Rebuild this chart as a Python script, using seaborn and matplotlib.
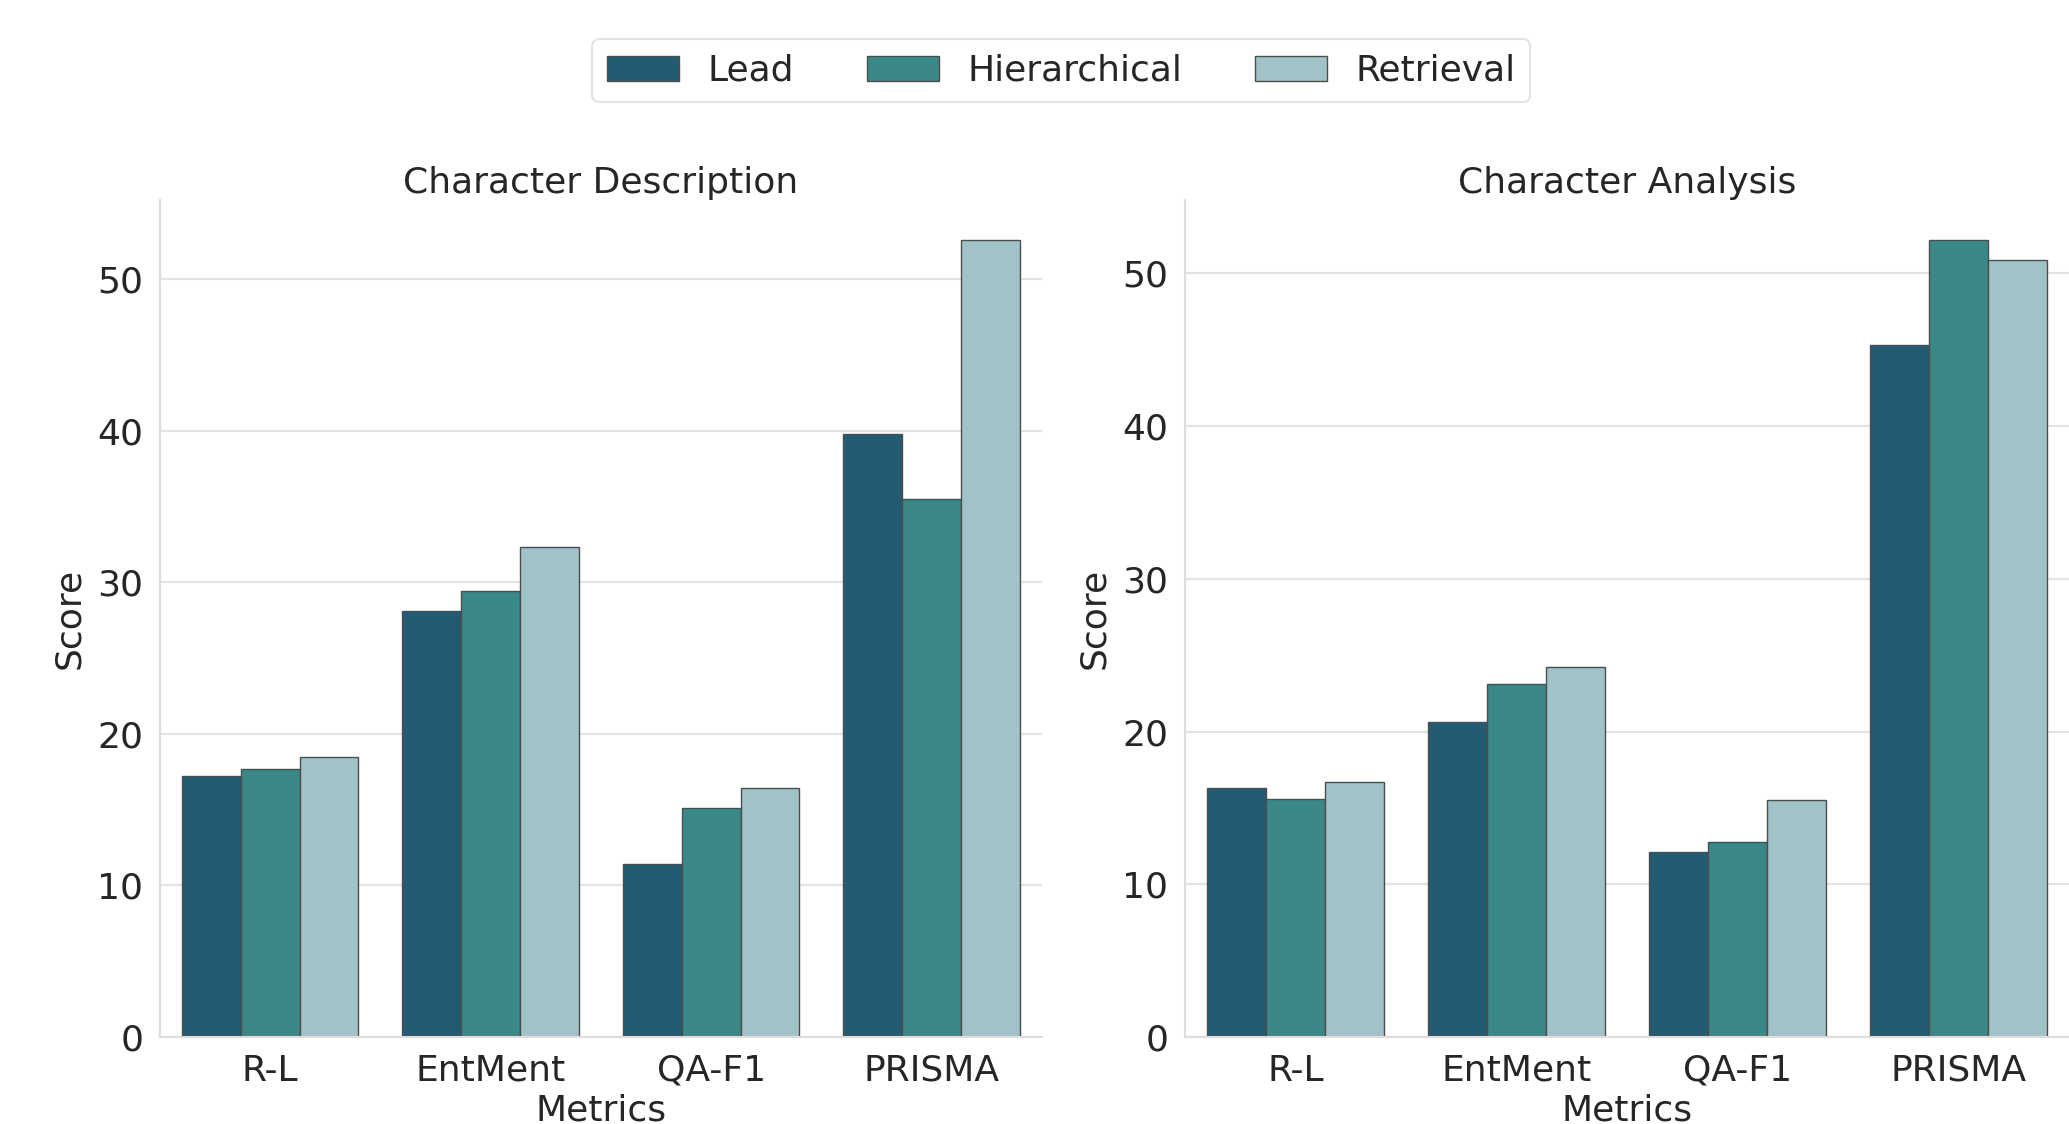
import matplotlib
matplotlib.use("Agg")
import matplotlib.pyplot as plt
import seaborn as sns
import pandas as pd

metrics = ["R-L", "EntMent", "QA-F1", "PRISMA"]
methods = ["Lead", "Hierarchical", "Retrieval"]
colors = ["#235B73", "#3A8887", "#A1C3C7"]

desc_lead = [17.2, 28.1, 11.4, 39.8]
desc_hier = [17.7, 29.4, 15.1, 35.5]
desc_retr = [18.5, 32.3, 16.4, 52.6]

anal_lead = [16.3, 20.6, 12.1, 45.3]
anal_hier = [15.6, 23.1, 12.8, 52.2]
anal_retr = [16.7, 24.2, 15.5, 50.9]

titles = ["Character Description", "Character Analysis"]


def make_df(lead, hier, retr):
    rows = []
    for vals, m in zip([lead, hier, retr], methods):
        for met, v in zip(metrics, vals):
            rows.append({"Metrics": met, "Method": m, "Score": v})
    return pd.DataFrame(rows)


dfs = [make_df(desc_lead, desc_hier, desc_retr),
       make_df(anal_lead, anal_hier, anal_retr)]

sns.set_theme(style="whitegrid")
plt.rcParams["font.family"] = ["DejaVu Sans"]
plt.rcParams["axes.edgecolor"] = "#dddddd"
plt.rcParams["grid.color"] = "#e3e3e3"
plt.rcParams["text.color"] = "#262626"

fig = plt.figure(figsize=(20.69, 11.24), dpi=100)
positions = [[0.0773, 0.0774, 0.4263, 0.7447],
             [0.5727, 0.0774, 0.4273, 0.7447]]

for i, (df, title) in enumerate(zip(dfs, titles)):
    ax = fig.add_axes(positions[i])
    sns.barplot(data=df, x="Metrics", y="Score", hue="Method",
                hue_order=methods, order=metrics, palette=colors,
                saturation=1, edgecolor="0.3", linewidth=1.0, ax=ax,
                legend=(i == 0), errorbar=None)
    ax.set_title(title, fontsize=26, pad=5)
    ax.set_xlabel("Metrics", fontsize=26, labelpad=4)
    ax.set_ylabel("Score", fontsize=26, labelpad=8)
    ax.tick_params(axis="both", labelsize=26, length=0)
    ax.tick_params(axis="x", pad=12)
    ax.tick_params(axis="y", pad=12)
    ax.set_yticks([0, 10, 20, 30, 40, 50])
    ax.xaxis.grid(False)
    ax.yaxis.grid(True, linewidth=1.5)
    sns.despine(ax=ax)
    for s in ["left", "bottom"]:
        ax.spines[s].set_linewidth(1.5)
    if i == 0:
        handles, labels = ax.get_legend_handles_labels()
        ax.get_legend().remove()

leg = fig.legend(handles, labels, loc="center", bbox_to_anchor=(0.513, 0.937),
                 ncol=3, fontsize=26, frameon=True)
leg.get_frame().set_edgecolor("#dddddd")
leg.get_frame().set_linewidth(1.5)

fig.savefig("out.png", dpi=100)
